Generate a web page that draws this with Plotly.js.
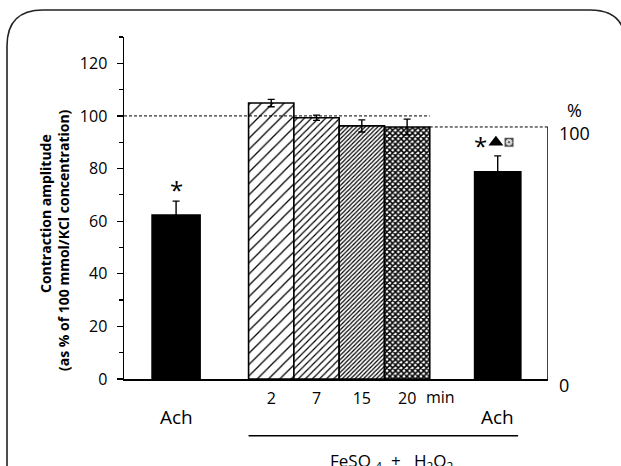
<!DOCTYPE html>
<html>
<head>
<meta charset="utf-8">
<script src="https://cdn.plot.ly/plotly-3.0.1.min.js"></script>
<style>
html,body{margin:0;padding:0;background:#fff;}
#chart{width:621px;height:466px;}
</style>
</head>
<body>
<div id="chart"></div>
<script>
// ---- data ----
const groups = ["Ach", "2", "7", "15", "20", "Ach"];
const positions = [0, 2.1, 3.1, 4.1, 5.1, 7.1];
const values = [62.3, 104.9, 99.3, 96.2, 95.8, 78.8];
const errors = [5.3, 1.4, 1.0, 2.3, 3.0, 6.0];
const minuteLabels = ["2", "7", "15", "20"];
const minutePositions = [2.1, 3.1, 4.1, 5.1];
const achLabels = ["Ach", "Ach"];
const achPositions = [0, 7.1];
const referenceLevel = 100;      // dashed line, left scale
const baselineLevel = 95.8;      // 100 % on right scale
const yTicks = [0, 20, 40, 60, 80, 100, 120];

// ---- layout helpers ----
const L = 124, R = 548, T = 37, B = 379, W = 621, H = 466;
const X = px => (px - L) / (R - L);
const Y = py => (B - py) / (B - T);
const xRange = [-1.15, 8.21];
const yRange = [0, 130];
const FONT = "Open Sans, Noto Sans, sans-serif";

// styles per bar (index-aligned with groups)
const styles = [
  {fill: "#000", shape: ""},
  {fill: "#fff", shape: "/", size: 8, solidity: 0.16},
  {fill: "#fff", shape: "/", size: 5, solidity: 0.24},
  {fill: "#fff", shape: "/", size: 3, solidity: 0.4},
  {fill: "#fff", shape: "x", size: 4, solidity: 0.62},
  {fill: "#000", shape: ""}
];
const widths = [1.06, 1, 1, 1, 1, 1.02];

const traces = groups.map((g, i) => {
  const st = styles[i];
  const marker = {color: st.fill, line: {color: "#000", width: 1.6}};
  if (st.shape) {
    marker.pattern = {shape: st.shape, size: st.size, solidity: st.solidity, fgcolor: "#000", bgcolor: "#fff", fgopacity: 1};
  }
  return {
    type: "bar",
    x: [positions[i]],
    y: [values[i]],
    width: [widths[i]],
    name: g,
    error_y: {type: "data", array: [errors[i]], visible: true, color: "#000", thickness: 1.4, width: 3.5},
    marker: marker,
    hoverinfo: "skip",
    showlegend: false
  };
});

const sigX = [7.06, 7.35];
const sigY = 90;
traces.push({type: "scatter", mode: "markers", x: [sigX[0]], y: [sigY], marker: {symbol: "triangle-up", size: 13, color: "#000"}, showlegend: false, hoverinfo: "skip", cliponaxis: false});
traces.push({type: "scatter", mode: "markers", x: [sigX[1], sigX[1], sigX[1]], y: [sigY, sigY, sigY], marker: {symbol: ["square", "circle", "circle"], size: [10, 6, 3.5], color: ["#000", "#fff", "#333"]}, showlegend: false, hoverinfo: "skip", cliponaxis: false});

const frameColor = "#222";
const framePath = `M ${X(7)},${Y(490)} L ${X(7)},${Y(46)} Q ${X(7)},${Y(10)} ${X(43)},${Y(10)} L ${X(590)},${Y(10)} Q ${X(626)},${Y(10)} ${X(626)},${Y(46)} L ${X(626)},${Y(490)}`;

const layout = {
  width: W, height: H,
  margin: {l: L, r: W - R, t: T, b: H - B, pad: 0},
  paper_bgcolor: "#fff",
  plot_bgcolor: "rgba(0,0,0,0)",
  font: {family: FONT, color: "#000"},
  barmode: "overlay",
  bargap: 0,
  xaxis: {
    range: xRange,
    showline: true, linecolor: "#000", linewidth: 2,
    showgrid: false, zeroline: false,
    tickvals: minutePositions, ticktext: minuteLabels,
    ticks: "", tickfont: {size: 16, family: FONT},
    ticklabelstandoff: 4,
    fixedrange: true
  },
  yaxis: {
    range: yRange,
    showline: true, linecolor: "#000", linewidth: 1.5,
    showgrid: false, zeroline: false,
    tickvals: yTicks,
    ticks: "outside", ticklen: 6, tickwidth: 1.2, tickcolor: "#000",
    minor: {dtick: 10, tick0: 0, ticks: "outside", ticklen: 4, tickwidth: 1.2, tickcolor: "#000"},
    tickfont: {size: 16, family: FONT},
    ticklabelstandoff: 6,
    fixedrange: true
  },
  shapes: [
    {type: "line", xref: "x", yref: "y", x0: xRange[0], x1: 5.6, y0: referenceLevel, y1: referenceLevel, line: {color: "#000", width: 1, dash: "3px,2px"}},
    {type: "line", xref: "x", yref: "y", x0: 5.6, x1: xRange[1], y0: baselineLevel, y1: baselineLevel, line: {color: "#000", width: 1, dash: "3px,2px"}},
    {type: "line", xref: "x", yref: "y", x0: xRange[1], x1: xRange[1], y0: 0, y1: baselineLevel, line: {color: "#000", width: 1.5}},
    {type: "line", xref: "x", yref: "paper", x0: 1.6, x1: 7.55, y0: Y(435.7), y1: Y(435.7), line: {color: "#000", width: 1.5}},
    {type: "path", xref: "paper", yref: "paper", path: framePath, line: {color: frameColor, width: 1.6}}
  ],
  annotations: [
    {xref: "paper", yref: "paper", x: X(45), y: Y(214), text: "<b>Contraction amplitude</b>", textangle: -90, showarrow: false, font: {size: 14, family: FONT}, xanchor: "center", yanchor: "middle"},
    {xref: "paper", yref: "paper", x: X(63), y: Y(240), text: "<b>(as % of 100 mmol/KCl concentration)</b>", textangle: -90, showarrow: false, font: {size: 14, family: FONT}, xanchor: "center", yanchor: "middle"},
    {xref: "x", yref: "paper", x: achPositions[0], y: Y(417), text: achLabels[0], showarrow: false, font: {size: 19, family: FONT}, xanchor: "center", yanchor: "middle"},
    {xref: "x", yref: "paper", x: achPositions[1], y: Y(417), text: achLabels[1], showarrow: false, font: {size: 19, family: FONT}, xanchor: "center", yanchor: "middle"},
    {xref: "x", yref: "paper", x: 5.83, y: Y(397), text: "min", showarrow: false, font: {size: 16, family: FONT}, xanchor: "center", yanchor: "middle"},
    {xref: "x", yref: "paper", x: 4.75, y: Y(461), text: "FeSO&nbsp;<sub>4</sub>&nbsp;&nbsp;+&nbsp;&nbsp;&nbsp;H<sub>2</sub>O<sub>2</sub>", showarrow: false, font: {size: 17, family: FONT}, xanchor: "center", yanchor: "middle"},
    {xref: "paper", yref: "paper", x: X(557), y: Y(122), text: "<span style='font-size:18px'>%</span><br>100", showarrow: false, font: {size: 18, family: FONT}, xanchor: "left", yanchor: "middle", align: "center"},
    {xref: "paper", yref: "paper", x: X(557), y: Y(385), text: "0", showarrow: false, font: {size: 18, family: FONT}, xanchor: "left", yanchor: "middle"},
    {xref: "x", yref: "paper", x: positions[0], y: Y(190), text: "*", showarrow: false, font: {size: 24, family: FONT}, xanchor: "center", yanchor: "middle"},
    {xref: "x", yref: "paper", x: 6.73, y: Y(145), text: "*", showarrow: false, font: {size: 24, family: FONT}, xanchor: "center", yanchor: "middle"}
  ]
};

Plotly.newPlot("chart", traces, layout, {displayModeBar: false, staticPlot: true});
</script>
</body>
</html>
